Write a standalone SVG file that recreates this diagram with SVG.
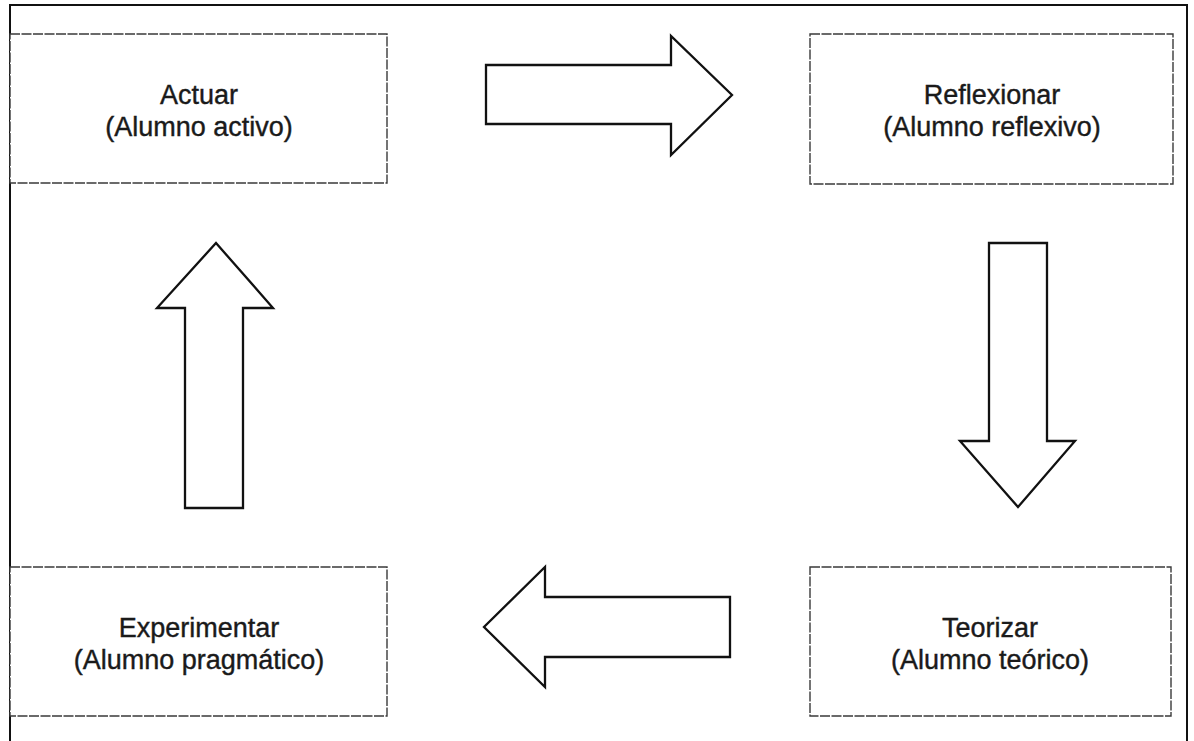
<svg xmlns="http://www.w3.org/2000/svg" width="1194" height="741" viewBox="0 0 1194 741">
<style>
.frame{fill:none;stroke:#111;stroke-width:2}
.box{fill:#fff;stroke:#3a3a3a;stroke-width:1.4;stroke-dasharray:10 1.5}
.lbl{font-family:"Liberation Sans",Arial,sans-serif;font-size:27px;fill:#1a1a1a;stroke:#1a1a1a;stroke-width:0.4;text-anchor:middle}
.arrow{fill:#fff;stroke:#111;stroke-width:2.3;stroke-linejoin:miter}
</style>
<rect width="1194" height="741" fill="#fff"/>
<path class="frame" d="M10,745 V5 H1187 V745"/>
<g id="actuar">
<rect class="box" x="10" y="34" width="377" height="149"/>
<text class="lbl" x="199" y="104">Actuar</text>
<text class="lbl" x="199" y="136">(Alumno activo)</text>
</g>
<g id="reflexionar">
<rect class="box" x="810" y="34" width="363" height="150"/>
<text class="lbl" x="992" y="104">Reflexionar</text>
<text class="lbl" x="992" y="136">(Alumno reflexivo)</text>
</g>
<g id="teorizar">
<rect class="box" x="810" y="567" width="361" height="149"/>
<text class="lbl" x="990" y="637">Teorizar</text>
<text class="lbl" x="990" y="669">(Alumno teórico)</text>
</g>
<g id="experimentar">
<rect class="box" x="10" y="567" width="377" height="149"/>
<text class="lbl" x="199" y="637">Experimentar</text>
<text class="lbl" x="199" y="669">(Alumno pragmático)</text>
</g>
<g id="connectors">
<path class="arrow" d="M486,65 H671 V36 L732,95 L671,155 V124 H486 Z"/>
<path class="arrow" d="M989,243 H1047 V441 H1075 L1018,507 L960,441 H989 Z"/>
<path class="arrow" d="M730,597 H545 V567 L484,627 L545,687 V657 H730 Z"/>
<path class="arrow" d="M185,508 V308 H157 L216,243 L273,308 H243 V508 Z"/>
</g>
</svg>
